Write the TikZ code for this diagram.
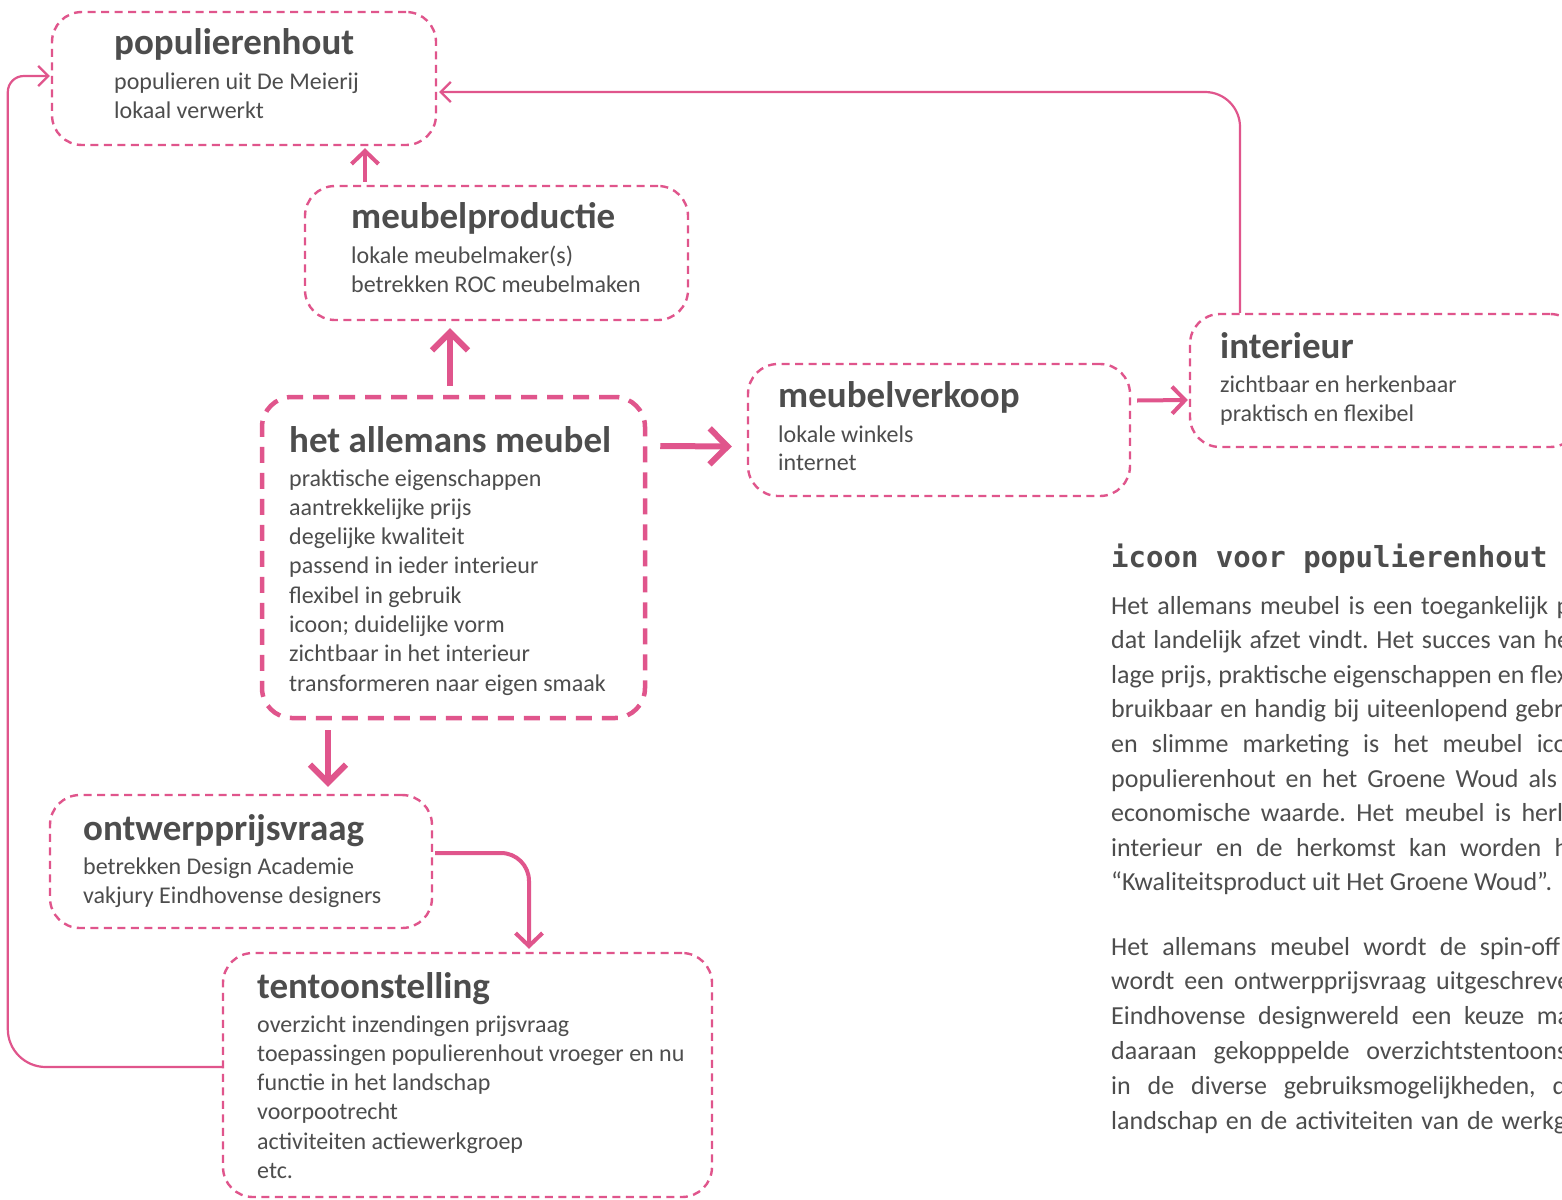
\documentclass[tikz,border=0pt]{standalone}
\usepackage{fontspec}
\setmainfont{Carlito}
\newfontfamily\monobold{DejaVu Sans Mono}
\usetikzlibrary{arrows.meta,calc}
\definecolor{mypink}{RGB}{224,85,140}
\definecolor{txtgray}{RGB}{77,77,77}
\frenchspacing
\begin{document}
\begin{tikzpicture}[x=1pt,y=-1pt,
  box/.style={draw=mypink, line width=2.4pt, dash pattern=on 8pt off 5.5pt, rounded corners=30pt, inner sep=0pt},
  bigbox/.style={draw=mypink, line width=4.5pt, dash pattern=on 16pt off 10pt, rounded corners=30pt, inner sep=0pt},
  ttl/.style={anchor=base west, inner sep=0pt, text=txtgray, font=\fontsize{37}{42}\selectfont\bfseries},
  bdy/.style={anchor=base west, inner sep=0pt, text=txtgray, font=\fontsize{24}{29}\selectfont},
  prg/.style={anchor=base west, inner sep=0pt, text=txtgray, font=\fontsize{26}{31}\selectfont},
  hdg/.style={anchor=base west, inner sep=0pt, text=txtgray, font=\fontsize{29}{34}\monobold\bfseries},
  bigarrow/.style={draw=mypink, line width=6pt, -{Straight Barb[length=18pt,width=36pt]}},
  midarrow/.style={draw=mypink, line width=4pt, -{Straight Barb[length=13pt,width=27pt]}},
  thinarrow/.style={draw=mypink, line width=2.2pt, -{Straight Barb[length=10pt,width=20pt]}}
]
\fill[white] (0,0) rectangle (1562,1199);
\useasboundingbox (0,0) rectangle (1562,1199);

% boxes
\node[box, minimum width=384pt, minimum height=133pt] (pop) at (244,78.5) {};
\node[box, minimum width=383pt, minimum height=134pt] (mp) at (496.5,253) {};
\node[bigbox, minimum width=383pt, minimum height=321pt] (all) at (453.5,557.5) {};
\node[box, minimum width=382pt, minimum height=132pt] (verk) at (939,430) {};
\node[box, minimum width=390pt, minimum height=133pt] (int) at (1385,380.5) {};
\node[box, minimum width=382pt, minimum height=133pt] (ont) at (241,861.5) {};
\node[box, minimum width=489pt, minimum height=244pt] (tent) at (467.5,1075) {};

% texts
\node[ttl] (pop-t) at (114,55) {populierenhout};
\foreach \t [count=\i from 0] in {populieren uit De Meierij, lokaal verwerkt}
  \node[bdy] (pop-\i) at (114,{89.5+29.3*\i}) {\t};

\node[ttl] (mp-t) at (351,228) {meubelproductie};
\foreach \t [count=\i from 0] in {lokale meubelmaker(s), betrekken ROC meubelmaken}
  \node[bdy] (mp-\i) at (351,{263+29.3*\i}) {\t};

\node[ttl] (all-t) at (289,452) {het allemans meubel};
\foreach \t [count=\i from 0] in {praktische eigenschappen, aantrekkelijke prijs, degelijke kwaliteit, passend in ieder interieur, flexibel in gebruik, icoon; duidelijke vorm, zichtbaar in het interieur, transformeren naar eigen smaak}
  \node[bdy] (all-\i) at (289,{486+29.3*\i}) {\t};

\node[ttl] (verk-t) at (778,407) {meubelverkoop};
\foreach \t [count=\i from 0] in {lokale winkels, internet}
  \node[bdy] (verk-\i) at (778,{442+28.8*\i}) {\t};

\node[ttl] (int-t) at (1220,358) {interieur};
\foreach \t [count=\i from 0] in {zichtbaar en herkenbaar, praktisch en flexibel}
  \node[bdy] (int-\i) at (1220,{392+29.3*\i}) {\t};

\node[ttl] (ont-t) at (83,840) {ontwerpprijsvraag};
\foreach \t [count=\i from 0] in {betrekken Design Academie, vakjury Eindhovense designers}
  \node[bdy] (ont-\i) at (83,{874+29.3*\i}) {\t};

\node[ttl] (tent-t) at (257,998) {tentoonstelling};
\foreach \t [count=\i from 0] in {overzicht inzendingen prijsvraag, toepassingen populierenhout vroeger en nu, functie in het landschap, voorpootrecht, activiteiten actiewerkgroep, etc.}
  \node[bdy] (tent-\i) at (257,{1032+29.3*\i}) {\t};

% right column text
\node[hdg] (hd) at (1111,567) {icoon voor populierenhout};
\foreach \w/\t [count=\i from 0] in {
  459/{Het allemans meubel is een toegankelijk p},
  459/{dat landelijk afzet vindt. Het succes van he},
  457/{lage prijs, praktische eigenschappen en flex},
  452/{bruikbaar en handig bij uiteenlopend gebr},
  456/{en slimme marketing is het meubel ico},
  446/{populierenhout en het Groene Woud als},
  452/{economische waarde. Het meubel is herl},
  457/{interieur en de herkomst kan worden h}}
  \node[prg] (pa-\i) at (1111,{614+34.6*\i}) {\makebox[\w pt][s]{\t}};
\node[prg] (pa-8) at (1111,{614+34.6*8}) {“Kwaliteitsproduct uit Het Groene Woud”.};

\foreach \w/\t [count=\i from 0] in {
  449/{Het allemans meubel wordt de spin-off},
  459/{wordt een ontwerpprijsvraag uitgeschreve},
  459/{Eindhovense designwereld een keuze ma},
  456/{daaraan gekopppelde overzichtstentoons},
  455/{in de diverse gebruiksmogelijkheden, d}}
  \node[prg] (pb-\i) at (1111,{955+34.8*\i}) {\makebox[\w pt][s]{\t}};
\node[prg] (pb-5) at (1111,{955+34.8*5}) {\makebox[455pt][s]{landschap en de activiteiten van de werkg}};

% connectors
\draw[midarrow] ([xshift=-131.5pt,yshift=3pt]mp.north) -- ([xshift=121pt,yshift=-2pt]pop.south);
\draw[bigarrow] ([xshift=-3.5pt,yshift=9pt]all.north) -- ([xshift=-46.5pt,yshift=-7pt]mp.south);
\draw[bigarrow] ([xshift=13pt,yshift=111.5pt]all.east) -- ([xshift=-15pt,yshift=-16.5pt]verk.west);
\draw[bigarrow] ([xshift=-125.5pt,yshift=-10pt]all.south) -- ([xshift=87pt,yshift=7pt]ont.north);
\draw[midarrow] ([xshift=6pt,yshift=29.5pt]verk.east) -- ([xshift=-1pt,yshift=-19.5pt]int.west);
\draw[midarrow, rounded corners=28pt] ([xshift=2pt,yshift=8.5pt]ont.east) -| ([xshift=61.5pt,yshift=3pt]tent.north);
\draw[thinarrow, rounded corners=35pt] ([xshift=-145pt]int.north) |- ([xshift=2pt,yshift=-13.5pt]pop.east);
\draw[thinarrow, rounded corners=38pt] ([yshift=8pt]tent.west) -- ([xshift=-214pt,yshift=8pt]tent.west) [rounded corners=16pt] -- ([xshift=-43pt,yshift=2.5pt]pop.west) -- ([xshift=-1pt,yshift=2.5pt]pop.west);
\end{tikzpicture}
\end{document}
